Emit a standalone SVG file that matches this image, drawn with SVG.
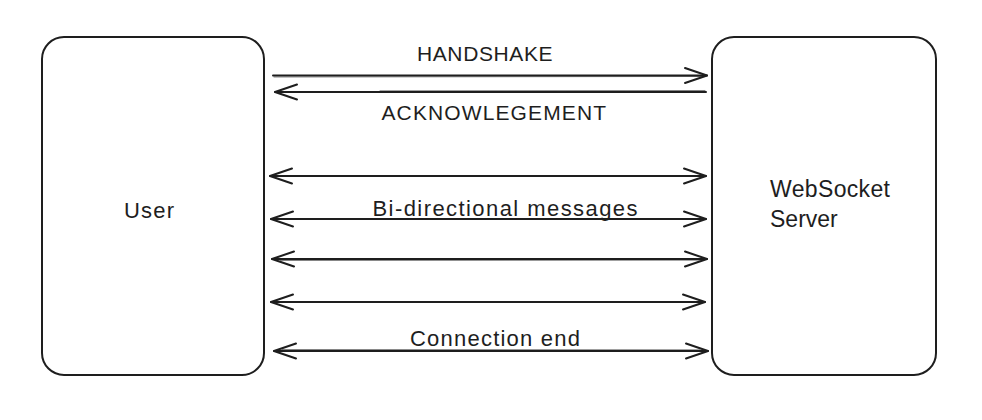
<svg xmlns="http://www.w3.org/2000/svg" width="982" height="420" viewBox="0 0 982 420">
  <style>
    .box { fill: #ffffff; stroke: #1e1e1e; stroke-width: 2; }
    .lbl { font-family: "Liberation Sans", "DejaVu Sans", sans-serif; fill: #1e1e1e; }
    .cap { font-size: 21px; letter-spacing: 0.5px; }
    .txt { font-size: 22px; }
    .big { font-size: 23px; }
    .wire { fill: none; stroke: #1e1e1e; stroke-width: 2; stroke-linecap: round; }
    .wire2 { fill: none; stroke: #1e1e1e; stroke-width: 0.8; stroke-linecap: round; opacity: 0.7; }
  </style>
  <defs>
    <marker id="head" markerUnits="userSpaceOnUse" viewBox="-26 -12 30 24" refX="0" refY="0" markerWidth="30" markerHeight="24" orient="auto-start-reverse" overflow="visible">
      <path d="M -22 -7.5 L 0 0 L -22 7.5" fill="none" stroke="#1e1e1e" stroke-width="2" stroke-linecap="round" stroke-linejoin="round"/>
    </marker>
  </defs>
  <rect width="982" height="420" fill="#ffffff"/>

  <g id="user">
    <rect class="box" x="42" y="37" width="222" height="338" rx="22" ry="22"/>
    <text class="lbl txt" x="149" y="218" text-anchor="middle" textLength="50">User</text>
  </g>

  <g id="server">
    <rect class="box" x="712" y="37" width="224" height="338" rx="22" ry="22"/>
    <text class="lbl big" x="770" y="197" textLength="120">WebSocket</text>
    <text class="lbl big" x="770" y="227">Server</text>
  </g>

  <g id="connectors">
    <path class="wire" d="M273 75.5 L707 75.5" marker-end="url(#head)"/>
    <path class="wire2" d="M274 77 L705 76.5"/>
    <path class="wire" d="M706 92 L275 92" marker-end="url(#head)"/>
    <path class="wire2" d="M705 90.5 L380 90.8"/>
    <path class="wire" d="M270 176 L706 176" marker-start="url(#head)" marker-end="url(#head)"/>
    <path class="wire" d="M271 219 L706 219" marker-start="url(#head)" marker-end="url(#head)"/>
    <path class="wire" d="M272 259 L707 259" marker-start="url(#head)" marker-end="url(#head)"/>
    <path class="wire2" d="M280 260.5 L700 260.2"/>
    <path class="wire" d="M271 302 L705 302" marker-start="url(#head)" marker-end="url(#head)"/>
    <path class="wire" d="M274 351 L708 351" marker-start="url(#head)" marker-end="url(#head)"/>
    <path class="wire2" d="M282 349.5 L700 349.8"/>
  </g>

  <g id="labels">
    <text class="lbl cap" x="485" y="61" text-anchor="middle" textLength="136">HANDSHAKE</text>
    <text class="lbl cap" x="494" y="120" text-anchor="middle" textLength="225">ACKNOWLEGEMENT</text>
    <text class="lbl txt" x="505" y="216" text-anchor="middle" textLength="265">Bi-directional messages</text>
    <text class="lbl txt" x="495" y="346" text-anchor="middle" textLength="170">Connection end</text>
  </g>
</svg>
